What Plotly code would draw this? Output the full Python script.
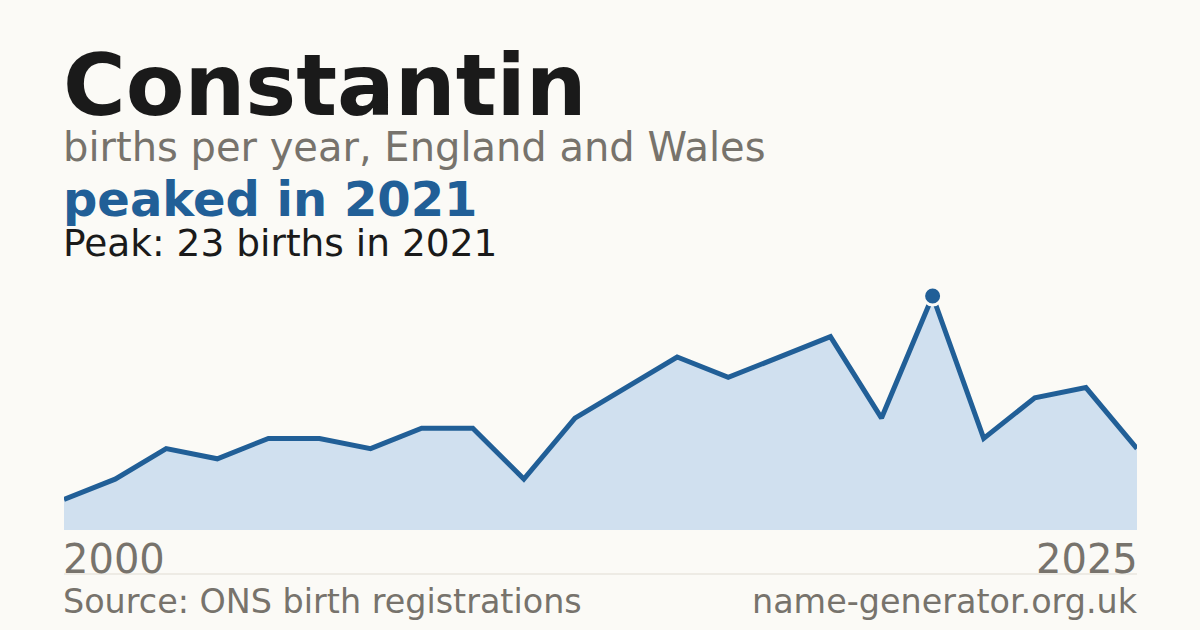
import plotly.graph_objs as go

# years with a published count (small counts are suppressed, so some years are missing)
years = [2000, 2001, 2003, 2004, 2005, 2007, 2008, 2009, 2011, 2012, 2013,
         2015, 2016, 2017, 2018, 2019, 2020, 2021, 2022, 2023, 2024, 2025]
births = [3, 5, 8, 7, 9, 9, 8, 10, 10, 5, 11,
          14, 17, 15, 17, 19, 11, 23, 9, 13, 14, 8]

name = "Constantin"
subtitle = "births per year, England and Wales"
source = "Source: ONS birth registrations"
site = "name-generator.org.uk"

bg = "#fbfaf6"
blue = "#215f97"
fill = "#d0e0ef"
dark = "#1a1a1a"
grey = "#77736c"
font = "DejaVu Sans"

W, H = 1200, 630
m_l, m_r, m_t, m_b = 64, 63, 280, 100
plot_h = H - m_t - m_b

peak_i = births.index(max(births))
peak_year = years[peak_i]
xs = list(range(len(years)))


def py(y_px):
    # pixel row (from top) -> paper y
    return (H - m_b - y_px) / plot_h


def base(y_px, size):
    # baseline row -> y for a bottom-anchored annotation
    return py(y_px + 0.236 * size + 5)


fig = go.Figure()
fig.add_trace(go.Scatter(
    x=xs, y=births, mode="lines", fill="tozeroy", fillcolor=fill,
    line=dict(color=blue, width=5), hoverinfo="skip"))
fig.add_trace(go.Scatter(
    x=[xs[peak_i]], y=[births[peak_i]], mode="markers",
    marker=dict(size=18, color=blue, line=dict(color=bg, width=3)),
    hoverinfo="skip"))

texts = [
    (name, 112, 85.5, dark, True),
    (subtitle, 158, 40, grey, False),
    (f"peaked in {peak_year}", 213, 48, blue, True),
    (f"Peak: {births[peak_i]} births in {peak_year}", 253, 37.5, dark, False),
]
ann = []
for t, yb, size, col, bold in texts:
    ann.append(dict(
        text=f"<b>{t}</b>" if bold else t, xref="paper", yref="paper",
        x=0, y=base(yb, size), xanchor="left", yanchor="bottom", xshift=-3,
        showarrow=False, font=dict(family=font, size=size, color=col)))

ann.append(dict(text=str(years[0]), xref="x", yref="paper", x=xs[0],
                y=base(570, 40), xanchor="left", yanchor="bottom", xshift=-3,
                showarrow=False, font=dict(family=font, size=40, color=grey)))
ann.append(dict(text=str(years[-1]), xref="x", yref="paper", x=xs[-1],
                y=base(570, 40), xanchor="right", yanchor="bottom", xshift=3,
                showarrow=False, font=dict(family=font, size=40, color=grey)))
ann.append(dict(text=source, xref="paper", yref="paper", x=0,
                y=base(610, 33.4), xanchor="left", yanchor="bottom", xshift=-3,
                showarrow=False, font=dict(family=font, size=33.4, color=grey)))
ann.append(dict(text=site, xref="paper", yref="paper", x=1,
                y=base(610, 33.4), xanchor="right", yanchor="bottom", xshift=3,
                showarrow=False, font=dict(family=font, size=33.4, color=grey)))

fig.update_layout(
    width=W, height=H,
    margin=dict(l=m_l, r=m_r, t=m_t, b=m_b),
    paper_bgcolor=bg, plot_bgcolor=bg,
    showlegend=False,
    annotations=ann,
    shapes=[dict(type="line", xref="paper", yref="paper", x0=0, x1=1,
                 y0=py(574), y1=py(574), line=dict(color="#e0dcd3", width=1))],
    xaxis=dict(range=[0, len(xs) - 1], visible=False, fixedrange=True),
    yaxis=dict(range=[0, max(births) * plot_h / 234], visible=False,
               fixedrange=True),
)

fig.write_html("out.html", config={"displayModeBar": False},
               post_script="document.body.style.margin='0';"
                           f"document.body.style.background='{bg}';")
